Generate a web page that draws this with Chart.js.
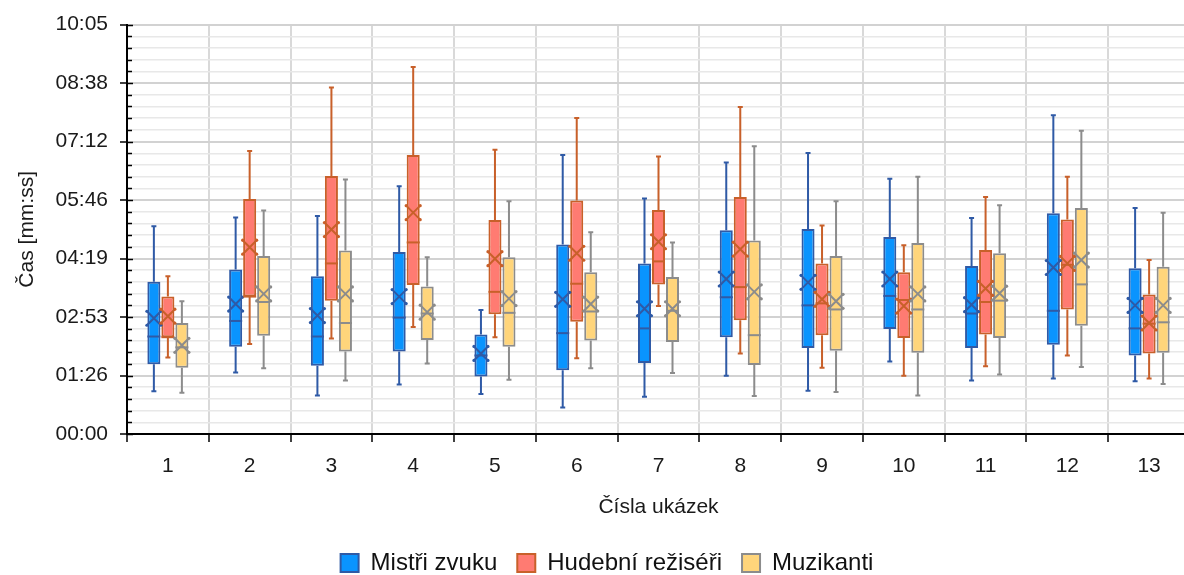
<!DOCTYPE html>
<html>
<head>
<meta charset="utf-8">
<script src="https://cdn.jsdelivr.net/npm/chart.js@4.4.1/dist/chart.umd.min.js"></script>
<style>
  html, body { margin: 0; padding: 0; background: #fff; overflow: hidden; }
  #wrap { width: 1214px; height: 585px; }
</style>
</head>
<body>
<div id="wrap"><canvas id="boxChart" width="1214" height="585"></canvas></div>
<script>
// Čísla ukázek
const categories = ['1', '2', '3', '4', '5', '6', '7', '8', '9', '10', '11', '12', '13'];

// všechny hodnoty v sekundách
// Mistři zvuku
const mistriMin    = [63, 91, 57, 73, 59, 39, 55, 86, 64, 107, 79, 82, 78];
const mistriQ1     = [103, 129, 101, 122, 85, 94, 105, 143, 127, 155, 127, 132, 116];
const mistriMedian = [144, 167, 144, 172, 116, 149, 156, 202, 190, 204, 178, 182, 156];
const mistriQ3     = [225, 243, 233, 269, 147, 280, 252, 301, 303, 291, 248, 326, 245];
const mistriMax    = [307, 320, 322, 366, 183, 412, 348, 401, 415, 377, 319, 471, 334];
const mistriMean   = [171, 192, 175, 203, 119, 199, 185, 229, 224, 229, 191, 246, 190];

// Hudební režiséři
const reziseriMin    = [113, 133, 141, 158, 143, 112, 189, 119, 98, 86, 100, 116, 82];
const reziseriQ1     = [143, 203, 197, 220, 177, 166, 221, 168, 146, 142, 147, 184, 119];
const reziseriMedian = [143, 203, 252, 283, 210, 222, 255, 217, 193, 198, 195, 250, 163];
const reziseriQ3     = [203, 347, 381, 412, 316, 345, 331, 350, 252, 239, 272, 317, 206];
const reziseriMax    = [233, 418, 512, 542, 420, 467, 410, 483, 308, 279, 350, 380, 257];
const reziseriMean   = [174, 276, 302, 327, 259, 267, 284, 273, 199, 189, 215, 252, 164];

// Muzikanti
const muzikantiMin    = [61, 97, 79, 104, 80, 97, 90, 56, 62, 57, 88, 99, 74];
const muzikantiQ1     = [98, 145, 122, 139, 129, 138, 136, 102, 123, 120, 142, 160, 120];
const muzikantiMedian = [128, 195, 164, 178, 179, 181, 182, 146, 184, 184, 197, 221, 165];
const muzikantiQ3     = [164, 263, 271, 218, 261, 239, 232, 286, 263, 282, 267, 334, 247];
const muzikantiMax    = [196, 330, 376, 261, 344, 298, 283, 425, 344, 380, 338, 448, 327];
const muzikantiMean   = [131, 207, 207, 180, 200, 192, 185, 210, 196, 207, 208, 257, 190];

// osa Y: 0 až 0,007 dne, hlavní krok 0,001 dne, vedlejší 1/5
const yMax = 604.8;
const yMinor = 17.28;

function mmss(sec) {
  const s = Math.round(sec);
  const m = Math.floor(s / 60);
  const r = s % 60;
  return String(m).padStart(2, '0') + ':' + String(r).padStart(2, '0');
}

function makeSeries(label, fill, border, min, q1, med, q3, max, mean) {
  return {
    label: label,
    data: q1.map((v, i) => [v, q3[i]]),
    stats: { min, med, max, mean },
    backgroundColor: fill,
    borderColor: border,
    borderWidth: 2,
    borderSkipped: false,
    categoryPercentage: 0.514,
    barPercentage: 0.93
  };
}

const datasets = [
  makeSeries('Mistři zvuku', '#0A94FE', '#2F5AA6', mistriMin, mistriQ1, mistriMedian, mistriQ3, mistriMax, mistriMean),
  makeSeries('Hudební režiséři', '#FF7B72', '#C8602A', reziseriMin, reziseriQ1, reziseriMedian, reziseriQ3, reziseriMax, reziseriMean),
  makeSeries('Muzikanti', '#FFD57B', '#8C8C8C', muzikantiMin, muzikantiQ1, muzikantiMedian, muzikantiQ3, muzikantiMax, muzikantiMean)
];

// kreslí vousy, mediány a průměry (X)
const boxPlotPlugin = {
  id: 'boxPlot',
  beforeDatasetsDraw(chart) {
    const { ctx, scales: { y }, chartArea } = chart;
    ctx.save();
    // vnitřní značky na ose Y
    ctx.strokeStyle = '#000';
    ctx.lineWidth = 1.5;
    y.ticks.forEach((t, i) => {
      const py = Math.round(y.getPixelForValue(t.value)) + 0.5;
      const len = i % 5 === 0 ? 6 : 5;
      ctx.beginPath();
      ctx.moveTo(chartArea.left, py);
      ctx.lineTo(chartArea.left + len, py);
      ctx.stroke();
    });
    // vousy
    chart.data.datasets.forEach((ds, di) => {
      const meta = chart.getDatasetMeta(di);
      if (meta.hidden) return;
      ctx.strokeStyle = ds.borderColor;
      ctx.lineWidth = 2;
      meta.data.forEach((bar, i) => {
        const x = bar.x;
        const yMin = y.getPixelForValue(ds.stats.min[i]);
        const yMaxP = y.getPixelForValue(ds.stats.max[i]);
        const yQ1 = y.getPixelForValue(ds.data[i][0]);
        const yQ3 = y.getPixelForValue(ds.data[i][1]);
        ctx.beginPath();
        ctx.moveTo(x, yQ3); ctx.lineTo(x, yMaxP);
        ctx.moveTo(x, yQ1); ctx.lineTo(x, yMin);
        ctx.moveTo(x - 2.5, yMaxP); ctx.lineTo(x + 2.5, yMaxP);
        ctx.moveTo(x - 2.5, yMin); ctx.lineTo(x + 2.5, yMin);
        ctx.stroke();
      });
    });
    ctx.restore();
  },
  afterDatasetsDraw(chart) {
    const { ctx, scales: { y } } = chart;
    ctx.save();
    chart.data.datasets.forEach((ds, di) => {
      const meta = chart.getDatasetMeta(di);
      if (meta.hidden) return;
      ctx.strokeStyle = ds.borderColor;
      ctx.fillStyle = ds.borderColor;
      meta.data.forEach((bar, i) => {
        const x = bar.x;
        const half = bar.width / 2;
        // medián
        const yMed = y.getPixelForValue(ds.stats.med[i]);
        ctx.lineWidth = 2;
        ctx.beginPath();
        ctx.moveTo(x - half, yMed);
        ctx.lineTo(x + half, yMed);
        ctx.stroke();
        // průměr
        const yMean = y.getPixelForValue(ds.stats.mean[i]);
        const r = 7;
        ctx.lineWidth = 2;
        ctx.beginPath();
        ctx.moveTo(x - r, yMean - r); ctx.lineTo(x + r, yMean + r);
        ctx.moveTo(x + r, yMean - r); ctx.lineTo(x - r, yMean + r);
        ctx.stroke();
        [[-1, -1], [1, -1], [-1, 1], [1, 1]].forEach(([dx, dy]) => {
          ctx.beginPath();
          ctx.arc(x + dx * r, yMean + dy * r, 1.6, 0, Math.PI * 2);
          ctx.fill();
        });
      });
    });
    ctx.restore();
  }
};

Chart.defaults.font.family = "'Liberation Sans', Arial, sans-serif";
Chart.defaults.font.size = 21;
Chart.defaults.color = '#1a1a1a';

new Chart(document.getElementById('boxChart'), {
  type: 'bar',
  data: { labels: categories, datasets: datasets },
  options: {
    responsive: false,
    animation: false,
    layout: { padding: { top: 22, right: 24, left: 24, bottom: 0 } },
    plugins: {
      legend: {
        position: 'bottom',
        labels: {
          boxWidth: 18,
          boxHeight: 18,
          padding: 20,
          color: '#111',
          font: { size: 24 }
        }
      },
      tooltip: { enabled: false }
    },
    scales: {
      x: {
        grid: {
          offset: true,
          color: '#d9d9d9',
          lineWidth: 2,
          tickColor: '#000',
          tickLength: 8,
          tickWidth: 1.5
        },
        border: { color: '#000', width: 2 },
        ticks: { padding: 12, maxRotation: 0 },
        title: {
          display: true,
          text: 'Čísla ukázek',
          padding: { top: 0, bottom: 11 }
        },
        afterFit(scale) { scale.height = 97; }
      },
      y: {
        min: 0,
        max: yMax,
        afterBuildTicks(scale) {
          const ticks = [];
          for (let i = 0; i <= 35; i++) ticks.push({ value: i * yMinor });
          scale.ticks = ticks;
        },
        grid: {
          color: c => (c.index % 5 === 0 ? '#d2d2d2' : '#e8e8e8'),
          lineWidth: c => (c.index % 5 === 0 ? 2 : 1.5),
          tickColor: c => (c.index % 5 === 0 ? '#000' : 'rgba(0,0,0,0)'),
          tickLength: 7,
          tickWidth: 1.5
        },
        border: { color: '#000', width: 2 },
        ticks: {
          autoSkip: false,
          padding: 12,
          callback: (v, i) => (i % 5 === 0 ? mmss(v) : '')
        },
        title: {
          display: true,
          text: 'Čas [mm:ss]',
          padding: { top: -9, bottom: 0 }
        },
        afterFit(scale) { scale.width = 103; }
      }
    }
  },
  plugins: [boxPlotPlugin]
});
</script>
</body>
</html>
